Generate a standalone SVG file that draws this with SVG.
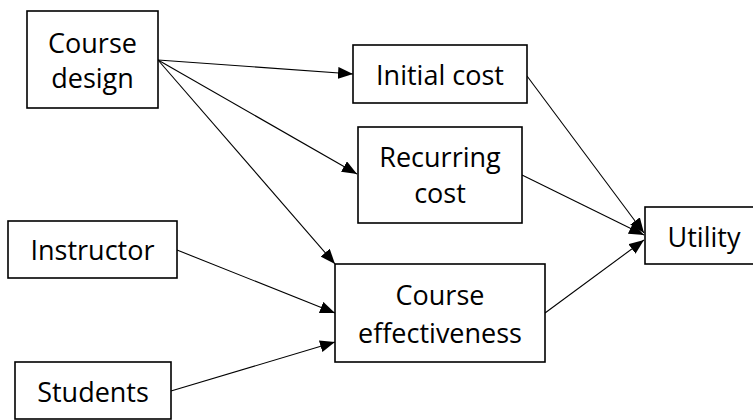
<svg xmlns="http://www.w3.org/2000/svg" width="753" height="420" viewBox="0 0 753 420">
  <style>
    .box { fill: #ffffff; stroke: #000000; stroke-width: 1.6; }
    .lbl { font-family: "Open Sans", "Liberation Sans", sans-serif; font-size: 27px; fill: #000000; text-anchor: middle; }
    .edge { stroke: #000000; stroke-width: 1.1; fill: none; marker-end: url(#arrow); }
  </style>
  <defs>
    <marker id="arrow" viewBox="0 0 15 12" refX="15" refY="6" markerWidth="15" markerHeight="12" markerUnits="userSpaceOnUse" orient="auto">
      <path d="M0,0 L15,6 L0,12 Z" fill="#000000"/>
    </marker>
  </defs>
  <rect width="753" height="420" fill="#ffffff"/>

  <g id="connectors">
    <line class="edge" x1="158" y1="60" x2="353" y2="74"/>
    <line class="edge" x1="158" y1="60" x2="357" y2="174"/>
    <line class="edge" x1="158" y1="60" x2="335" y2="264"/>
    <line class="edge" x1="177" y1="250" x2="335" y2="313"/>
    <line class="edge" x1="171" y1="391" x2="335" y2="342"/>
    <line class="edge" x1="527" y1="76" x2="644" y2="233"/>
    <line class="edge" x1="522" y1="175" x2="644" y2="235"/>
    <line class="edge" x1="545" y1="313" x2="644" y2="240"/>
  </g>

  <g id="course-design">
    <rect class="box" x="27" y="11" width="131" height="97"/>
    <text class="lbl" x="92.5" y="53">Course</text>
    <text class="lbl" x="92.5" y="88">design</text>
  </g>
  <g id="initial-cost">
    <rect class="box" x="353" y="45" width="174" height="58"/>
    <text class="lbl" x="440" y="85">Initial cost</text>
  </g>
  <g id="recurring-cost">
    <rect class="box" x="358" y="127" width="164" height="96"/>
    <text class="lbl" x="440" y="167">Recurring</text>
    <text class="lbl" x="440" y="203">cost</text>
  </g>
  <g id="utility">
    <rect class="box" x="645" y="207" width="120" height="57"/>
    <text class="lbl" x="704" y="247">Utility</text>
  </g>
  <g id="course-effectiveness">
    <rect class="box" x="335" y="264" width="210" height="98"/>
    <text class="lbl" x="440" y="305">Course</text>
    <text class="lbl" x="440" y="343">effectiveness</text>
  </g>
  <g id="instructor">
    <rect class="box" x="8" y="221" width="169" height="57"/>
    <text class="lbl" x="92.5" y="260">Instructor</text>
  </g>
  <g id="students">
    <rect class="box" x="15" y="362" width="156" height="57"/>
    <text class="lbl" x="93" y="402">Students</text>
  </g>
</svg>
